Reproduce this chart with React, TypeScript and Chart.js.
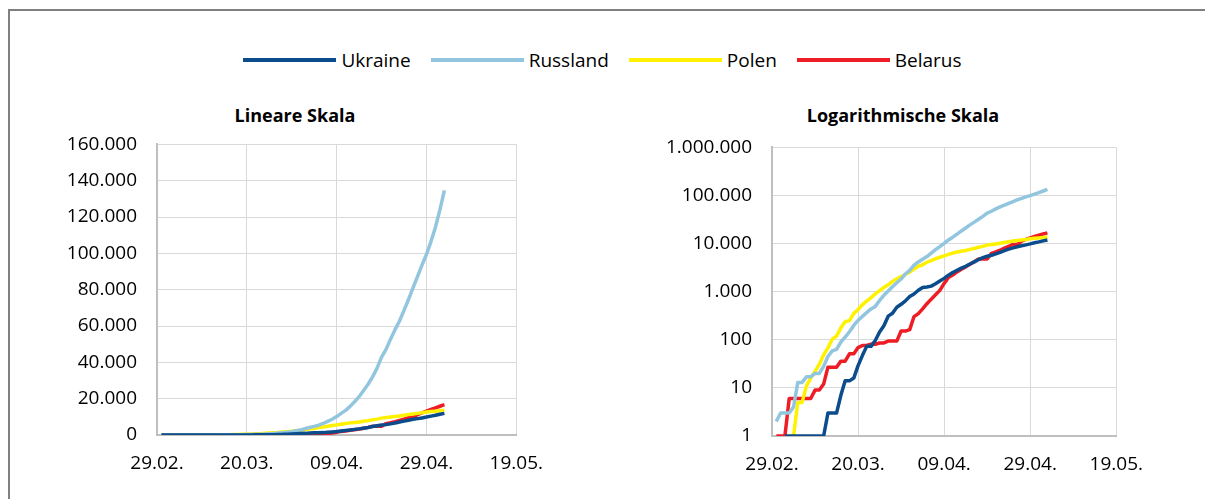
import React, { useEffect, useRef } from "react";
import { Chart, registerables } from "chart.js";

Chart.register(...registerables);

const FONT = "'Open Sans', 'Noto Sans', sans-serif";

// Series (daily cumulative values, day 1 = 01.03. ... day 64 = 03.05.)
const seriesNames = ["Ukraine", "Russland", "Polen", "Belarus"];
const seriesColors = ["#0b4c8c", "#92c5de", "#fff200", "#ee1c24"];
const firstDay = 1; // days after 29.02.

const ukraine: (number | null)[] = [null, null, 1, 1, 1, 1, 1, 1, 1, 1, 1, 1, 3, 3, 3, 7, 14, 14, 16, 29, 47, 73, 73, 97, 145, 196, 310, 356, 475, 548, 645, 794, 897, 1072, 1225, 1251, 1308, 1462, 1668, 1892, 2203, 2511, 2777, 3102, 3372, 3764, 4161, 4662, 5106, 5449, 5710, 6125, 6592, 7170, 7647, 8125, 8617, 9009, 9410, 9866, 10406, 10861, 11411, 11913];
const russland: (number | null)[] = [2, 3, 3, 3, 4, 13, 13, 17, 17, 20, 20, 28, 45, 59, 63, 90, 114, 147, 199, 253, 306, 367, 438, 495, 658, 840, 1036, 1264, 1534, 1836, 2337, 2777, 3548, 4149, 4731, 5389, 6343, 7497, 8672, 10131, 11917, 13584, 15770, 18328, 21102, 24490, 27938, 32008, 36793, 42853, 47121, 52763, 57999, 62773, 68622, 74588, 80949, 87147, 93558, 99399, 106498, 114431, 124054, 134687];
const polen: (number | null)[] = [null, null, null, 1, 1, 5, 5, 11, 16, 22, 31, 49, 68, 103, 119, 177, 238, 251, 355, 425, 536, 634, 749, 901, 1051, 1221, 1389, 1638, 1862, 2055, 2311, 2554, 2946, 3383, 3627, 4102, 4413, 4848, 5205, 5575, 5955, 6356, 6674, 6934, 7202, 7582, 7918, 8379, 8742, 9287, 9593, 9856, 10169, 10511, 10892, 11273, 11617, 11902, 12218, 12640, 12877, 13105, 13375, 13693];
const belarus: (number | null)[] = [1, 1, 1, 6, 6, 6, 6, 6, 6, 9, 9, 12, 27, 27, 27, 36, 36, 51, 51, 69, 76, 76, 81, 81, 86, 86, 94, 94, 94, 152, 152, 163, 304, 351, 440, 562, 700, 861, 1066, 1486, 1981, 2226, 2578, 2919, 3281, 3728, 4204, 4779, 4779, 4779, 6264, 6723, 7281, 8022, 8773, 9590, 9590, 11289, 12208, 13181, 14027, 14917, 15828, 16705];

const seriesValues = [ukraine, russland, polen, belarus];

// Axes
const xTickLabels = ["29.02.", "20.03.", "09.04.", "29.04.", "19.05."];
const xMin = 0;
const xMax = 80;
const xStep = 20;
const linMax = 160000;
const linStep = 20000;
const logTicks = [1, 10, 100, 1000, 10000, 100000, 1000000];

const fmt = (v: number) => String(Math.round(v)).replace(/\B(?=(\d{3})+(?!\d))/g, ".");

function buildConfig(isLog: boolean, yAxisWidth: number, padRight: number): any {
  const datasets = seriesNames.map((name, si) => ({
    label: name,
    data: seriesValues[si].map((v, i) => ({
      x: firstDay + i,
      y: v === null ? (isLog ? null : 0) : v,
    })),
    borderColor: seriesColors[si],
    backgroundColor: seriesColors[si],
    borderWidth: 3.5,
    pointRadius: 0,
    tension: 0,
    fill: false,
    spanGaps: false,
    borderCapStyle: "butt",
    borderJoinStyle: "round",
  }));
  const tickFont = { family: FONT, size: 19 };
  const grid = { color: "#d9d9d9", lineWidth: 1, drawTicks: false };
  const border = { color: "#bfbfbf", width: 2 };
  return {
    type: "line",
    data: { datasets },
    options: {
      animation: false,
      responsive: false,
      maintainAspectRatio: false,
      layout: { padding: { top: 0, right: padRight, bottom: 0, left: 0 } },
      plugins: {
        legend: { display: false },
        title: { display: false },
        tooltip: { enabled: false },
      },
      scales: {
        x: {
          type: "linear",
          min: xMin,
          max: xMax,
          afterFit: (s: any) => {
            s.height = 50;
          },
          ticks: {
            stepSize: xStep,
            padding: 17,
            maxRotation: 0,
            autoSkip: false,
            color: "#000",
            font: tickFont,
            callback: (v: number) => xTickLabels[Math.round((v - xMin) / xStep)] ?? "",
          },
          grid,
          border,
        },
        y: isLog
          ? {
              type: "logarithmic",
              min: logTicks[0],
              max: logTicks[logTicks.length - 1],
              afterFit: (s: any) => {
                s.width = yAxisWidth;
              },
              afterBuildTicks: (s: any) => {
                s.ticks = logTicks.map((v) => ({ value: v }));
              },
              ticks: {
                padding: 20,
                color: "#000",
                font: tickFont,
                autoSkip: false,
                callback: (v: number) => fmt(v),
              },
              grid,
              border,
            }
          : {
              type: "linear",
              min: 0,
              max: linMax,
              afterFit: (s: any) => {
                s.width = yAxisWidth;
              },
              ticks: {
                stepSize: linStep,
                padding: 20,
                color: "#000",
                font: tickFont,
                callback: (v: number) => fmt(v),
              },
              grid,
              border,
            },
      },
    },
  };
}

export default function App() {
  const leftRef = useRef<HTMLCanvasElement>(null);
  const rightRef = useRef<HTMLCanvasElement>(null);

  useEffect(() => {
    const c1 = new Chart(leftRef.current as HTMLCanvasElement, buildConfig(false, 117, 32));
    const c2 = new Chart(rightRef.current as HTMLCanvasElement, buildConfig(true, 122, 34));
    return () => {
      c1.destroy();
      c2.destroy();
    };
  }, []);

  const titleStyle: React.CSSProperties = {
    position: "absolute",
    top: 103,
    width: 400,
    textAlign: "center",
    fontFamily: FONT,
    fontWeight: 700,
    fontSize: 18,
    lineHeight: "24px",
    color: "#000",
    whiteSpace: "nowrap",
  };

  return (
    <div
      style={{
        position: "fixed",
        left: 0,
        top: 0,
        width: 1205,
        height: 499,
        overflow: "hidden",
        background: "#fff",
        fontFamily: FONT,
      }}
    >
      <div
        style={{
          position: "absolute",
          left: 8,
          top: 9,
          width: 1400,
          height: 800,
          border: "2px solid #808080",
          boxSizing: "border-box",
        }}
      />
      <div
        style={{
          position: "absolute",
          left: 0,
          top: 48,
          width: 1205,
          height: 24,
          display: "flex",
          justifyContent: "center",
          alignItems: "center",
        }}
      >
        {seriesNames.map((name, i) => (
          <div
            key={name}
            style={{
              display: "flex",
              alignItems: "center",
              marginRight: i < seriesNames.length - 1 ? 20 : 0,
            }}
          >
            <div style={{ width: 93, height: 4, background: seriesColors[i], marginRight: 5 }} />
            <span style={{ fontSize: 19, lineHeight: "24px", color: "#000", fontFamily: FONT }}>{name}</span>
          </div>
        ))}
      </div>
      <div style={{ ...titleStyle, left: 295 - 200 }}>Lineare Skala</div>
      <div style={{ ...titleStyle, left: 903 - 200 }}>Logarithmische Skala</div>
      <canvas
        ref={leftRef}
        width={520}
        height={372}
        style={{ position: "absolute", left: 40, top: 113, width: 520, height: 372, display: "block" }}
      />
      <canvas
        ref={rightRef}
        width={510}
        height={370}
        style={{ position: "absolute", left: 650, top: 116, width: 510, height: 370, display: "block" }}
      />
    </div>
  );
}
